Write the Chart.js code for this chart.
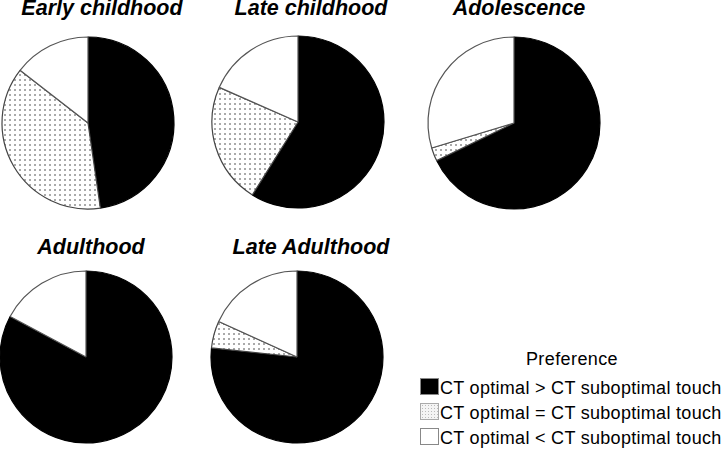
<!DOCTYPE html>
<html>
<head>
<meta charset="utf-8">
<script src="https://cdn.jsdelivr.net/npm/chart.js@4.4.0/dist/chart.umd.min.js"></script>
<style>
  body { margin: 0; background: #fff; }
  #wrap { position: relative; width: 722px; height: 449px; overflow: hidden; font-family: Arial, "Liberation Sans", sans-serif; color: #000; }
  .pie { position: absolute; width: 180px; height: 180px; }
  .ttl { position: absolute; font-weight: bold; font-style: italic; font-size: 21.5px; line-height: 25px; white-space: nowrap; transform: translateX(-50%); }
  #legTitle { position: absolute; left: 572px; top: 349px; font-size: 18px; line-height: 21px; letter-spacing: 0.4px; transform: translateX(-50%); white-space: nowrap; }
  .legRow { position: absolute; left: 420px; font-size: 18px; line-height: 21px; white-space: nowrap; }
  .legBox { position: absolute; left: 0; top: 0; width: 17px; height: 15px; border: 1px solid #888; }
  .legText { position: absolute; left: 20px; top: 0; letter-spacing: 0.3px; }
</style>
</head>
<body>
<div id="wrap"></div>
<script>
// Age groups and share of each preference (%)
const groups = ['Early childhood', 'Late childhood', 'Adolescence', 'Adulthood', 'Late Adulthood'];
const optimalGreater = [47.7, 58.9, 67.8, 82.8, 76.6];
const optimalEqual = [37.8, 22.7, 2.5, 0, 5.1];
const optimalLess = [14.5, 18.4, 29.7, 17.2, 18.2];
const preferenceLabels = [
  'CT optimal > CT suboptimal touch',
  'CT optimal = CT suboptimal touch',
  'CT optimal < CT suboptimal touch'
];

// layout: pie centres and title positions
const pieCenters = [[88, 123], [298, 122], [514, 123], [86, 357], [297, 357]];
const titlePos = [[102, -4], [311, -4], [519, -4], [91, 235], [311, 235]];

const wrap = document.getElementById('wrap');

// dotted fill used for the "equal" slices
function makeDots() {
  const c = document.createElement('canvas');
  c.width = 5;
  c.height = 5;
  const ctx = c.getContext('2d');
  ctx.fillStyle = '#fff';
  ctx.fillRect(0, 0, 5, 5);
  ctx.fillStyle = '#aaa';
  ctx.fillRect(1, 1, 2, 2);
  return ctx.createPattern(c, 'repeat');
}
const dots = makeDots();

groups.forEach((name, i) => {
  const cv = document.createElement('canvas');
  cv.className = 'pie';
  cv.width = 180;
  cv.height = 180;
  cv.style.left = (pieCenters[i][0] - 90) + 'px';
  cv.style.top = (pieCenters[i][1] - 90) + 'px';
  wrap.appendChild(cv);

  const t = document.createElement('div');
  t.className = 'ttl';
  t.textContent = name;
  t.style.left = titlePos[i][0] + 'px';
  t.style.top = titlePos[i][1] + 'px';
  wrap.appendChild(t);

  new Chart(cv.getContext('2d'), {
    type: 'pie',
    data: {
      labels: preferenceLabels,
      datasets: [{
        data: [optimalGreater[i], optimalEqual[i], optimalLess[i]],
        backgroundColor: ['#000', dots, '#fff'],
        borderColor: ['#000', '#444', '#555'],
        borderWidth: 1.2,
        radius: 86,
        hoverOffset: 0
      }]
    },
    options: {
      responsive: false,
      animation: false,
      layout: { padding: 0 },
      plugins: {
        legend: { display: false },
        tooltip: { enabled: false }
      }
    }
  });
});

// legend
const lt = document.createElement('div');
lt.id = 'legTitle';
lt.textContent = 'Preference';
wrap.appendChild(lt);

const legFills = ['#000', 'dots', '#fff'];
preferenceLabels.forEach((lab, i) => {
  const row = document.createElement('div');
  row.className = 'legRow';
  row.style.top = (378 + i * 25) + 'px';
  const box = document.createElement('div');
  box.className = 'legBox';
  if (legFills[i] === 'dots') {
    box.style.background = '#f4f4f4';
    box.style.backgroundImage = 'radial-gradient(#bbb 0.8px, transparent 1px)';
    box.style.backgroundSize = '3px 3px';
    box.style.borderColor = '#aaa';
  } else {
    box.style.background = legFills[i];
  }
  const txt = document.createElement('div');
  txt.className = 'legText';
  txt.textContent = lab;
  row.appendChild(box);
  row.appendChild(txt);
  wrap.appendChild(row);
});
</script>
</body>
</html>
